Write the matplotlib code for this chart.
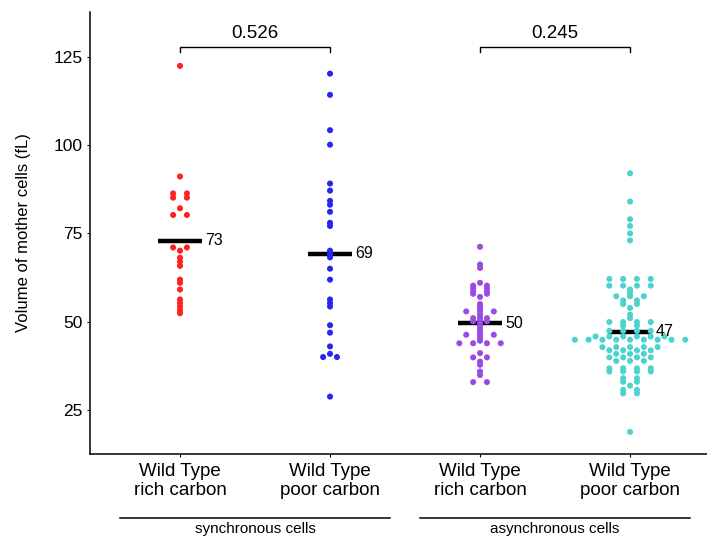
import numpy as np
import matplotlib
matplotlib.use('Agg')
import matplotlib.pyplot as plt
import matplotlib.transforms as mtransforms

plt.rcParams['font.family'] = ['Liberation Sans', 'DejaVu Sans']

## datos (volumen en fL)
etiquetas_x = ['Wild Type\nrich carbon', 'Wild Type\npoor carbon',
               'Wild Type\nrich carbon', 'Wild Type\npoor carbon']
colores = ['#FF2020', '#2626F0', '#9A4CE2', '#4DD2CE']

sync_rich = [122.4, 91.1, 86.3, 86.3, 85.1, 85.1, 82.1, 80.2, 80.2, 71.0, 71.0,
             70.1, 68.1, 67.0, 65.8, 61.9, 61.0, 59.1, 56.3, 55.3, 54.3, 53.3, 52.4]
sync_poor = [120.2, 114.2, 104.2, 100.1, 89.1, 87.1, 84.2, 83.1, 81.1, 78.0, 77.1,
             70.1, 69.1, 68.2, 65.0, 61.9, 56.3, 55.3, 54.3, 49.0, 46.9, 43.0,
             40.9, 40.0, 40.0, 28.8]
async_rich = [71.2, 66.2, 65.2, 61.0,
              60.2, 60.2, 59.5, 59.5, 58.6, 58.6, 57.9, 57.9, 57.0,
              55.0, 54.2, 53.4, 52.9, 52.9, 52.9, 52.0, 51.2, 50.4, 49.6, 48.8,
              48.0, 47.2, 46.3, 46.3, 46.3, 45.4, 44.6,
              51.0, 51.0, 50.1, 50.1,
              43.9, 43.9, 43.9, 43.9, 41.1, 39.9, 39.9, 38.7, 37.8, 35.9, 34.9,
              32.9, 32.9]
async_poor = [92.0, 84.0, 79.0, 77.1, 75.0, 73.0,
              62.1, 62.1, 62.1, 62.1, 60.2, 60.2, 60.2, 60.2, 59.1, 58.2,
              57.2, 57.2, 57.2, 56.0, 56.0, 55.0, 55.0, 53.9, 52.0, 51.0,
              49.9, 49.9, 49.9, 49.9, 48.9, 48.9, 47.4, 47.4, 47.4, 47.4,
              45.8, 45.8, 45.8, 45.8, 45.8, 45.8,
              44.9, 44.9, 44.9, 44.9, 44.9, 44.9, 44.9, 44.9, 44.9,
              42.8, 42.8, 42.8, 42.8, 42.8, 41.9, 41.9, 41.9, 41.9,
              40.9, 40.9, 40.9, 39.9, 39.9, 39.9, 39.9, 38.9, 38.9, 38.9,
              36.8, 36.8, 36.8, 36.8, 35.9, 35.9, 35.9, 35.9,
              34.0, 34.0, 33.0, 33.0, 31.9, 30.7, 30.7, 29.7, 29.7, 18.8]
datos = [sync_rich, sync_poor, async_rich, async_poor]

medias = [72.9, 69.2, 49.5, 47.2]
medias_txt = ['73', '69', '50', '47']

comparaciones = [(1, 2, '0.526'), (3, 4, '0.245')]
grupos_txt = ['synchronous cells', 'asynchronous cells']
grupos_centro = [1.5, 3.5]


def swarm_x(valores, centro, paso=0.092):
    # puntos con el mismo valor se reparten centrados en la misma fila
    valores = np.asarray(valores)
    x = np.zeros(len(valores))
    for v in np.unique(valores):
        idx = np.where(valores == v)[0]
        n = len(idx)
        x[idx] = centro + (np.arange(n) - (n - 1) / 2.0) * paso
    return x


fig = plt.figure(figsize=(7.07, 5.37), dpi=100)
ax = fig.add_axes([90 / 707., 83 / 537., 617 / 707., 442 / 537.])

for i, vals in enumerate(datos):
    pos = i + 1
    ax.scatter(swarm_x(vals, pos), vals, s=19, color=colores[i], edgecolors='none', zorder=3)
    ax.plot([pos - 0.147, pos + 0.147], [medias[i], medias[i]], color='black',
            lw=3.2, solid_capstyle='butt', zorder=2)
    ax.text(pos + 0.17, medias[i], medias_txt[i], fontsize=11.5, va='center', ha='left')

for a, b, txt in comparaciones:
    ax.plot([a, a, b, b], [126.2, 127.8, 127.8, 126.2], color='black', lw=1.0, clip_on=False)
    ax.text((a + b) / 2.0, 129.2, txt, fontsize=13.5, ha='center', va='bottom')

ax.set_xlim(0.4, 4.513)
ax.set_ylim(12.55, 137.65)
ax.set_xticks([1, 2, 3, 4])
ax.set_xticklabels(etiquetas_x, fontsize=13.5, linespacing=1.15)
ax.set_yticks([25, 50, 75, 100, 125])
ax.tick_params(axis='both', direction='out', length=2.5, width=0.8, pad=3.0)
ax.tick_params(axis='x', pad=4.0)
ax.tick_params(axis='y', labelsize=12.5)
ax.spines['top'].set_visible(False)
ax.spines['right'].set_visible(False)
ax.spines['left'].set_linewidth(1.1)
ax.spines['bottom'].set_linewidth(1.1)
ax.set_ylabel('Volume of mother cells (fL)', fontsize=12)
ax.yaxis.set_label_coords(-0.095, 0.5)

trans = mtransforms.blended_transform_factory(ax.transData, ax.transAxes)
for c, txt in zip(grupos_centro, grupos_txt):
    ax.plot([c - 0.9, c + 0.9], [-0.1455, -0.1455], color='black', lw=1.1,
            transform=trans, clip_on=False)
    ax.text(c, -0.178, txt, fontsize=11, ha='center', va='baseline', transform=trans)

fig.savefig('out.png', dpi=100)
